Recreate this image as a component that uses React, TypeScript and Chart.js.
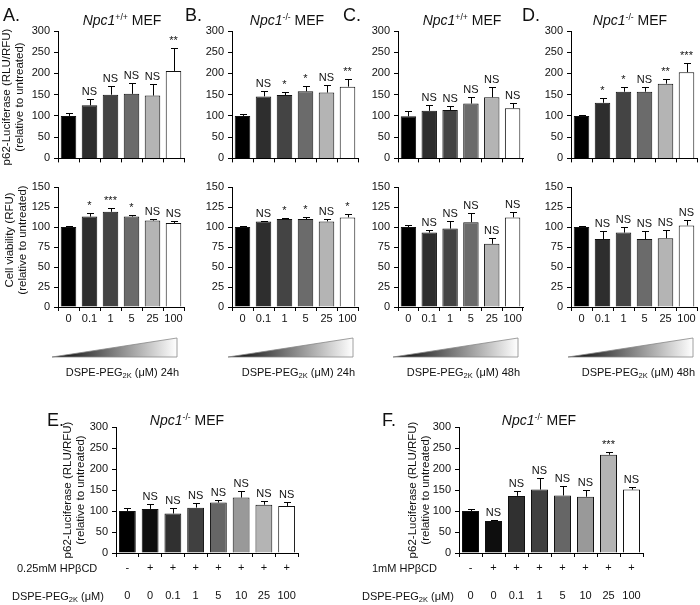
import React, { useEffect, useRef } from 'react';
import { Chart, registerables } from 'chart.js';
Chart.register(...registerables);

const FONT = '"Liberation Sans", Arial, Helvetica, sans-serif';

// ---------- data ----------
const doseLabels = ['0', '0.1', '1', '5', '25', '100'];
const doseColors = ['#000000', '#2e2e2e', '#444444', '#6b6b6b', '#b4b4b4', '#ffffff'];

const lucA = [100, 125, 150, 152, 148, 206];
const lucAErr = [6, 16, 20, 25, 27, 54];
const lucAMarks = ['', 'NS', 'NS', 'NS', 'NS', '**'];

const lucB = [100, 146, 149, 158, 155, 169];
const lucBErr = [5, 13, 8, 13, 19, 17];
const lucBMarks = ['', 'NS', '*', '*', 'NS', '**'];

const lucC = [99, 112, 114, 129, 144, 118];
const lucCErr = [13, 13, 10, 15, 25, 13];
const lucCMarks = ['', 'NS', 'NS', 'NS', 'NS', 'NS'];

const lucD = [100, 131, 157, 157, 176, 203];
const lucDErr = [2, 12, 10, 12, 12, 21];
const lucDMarks = ['', '*', '*', 'NS', '**', '***'];

const viaA = [100, 113, 119, 113, 108, 105];
const viaAErr = [1, 5, 5, 2, 1.5, 2];
const viaAMarks = ['', '*', '***', '*', 'NS', 'NS'];

const viaB = [100, 107, 110, 110, 107, 112];
const viaBErr = [1, 1, 1.5, 2, 3, 4];
const viaBMarks = ['', 'NS', '*', '*', 'NS', '*'];

const viaC = [100, 93, 98, 106, 79, 112];
const viaCErr = [2, 3, 10, 12, 7, 7];
const viaCMarks = ['', 'NS', 'NS', 'NS', 'NS', 'NS'];

const viaD = [100, 85, 93, 85, 86, 102];
const viaDErr = [1, 10, 7, 10, 10, 7];
const viaDMarks = ['', 'NS', 'NS', 'NS', 'NS', 'NS'];

const efCats = ['c1', 'c2', 'c3', 'c4', 'c5', 'c6', 'c7', 'c8'];
const hpRow = ['-', '+', '+', '+', '+', '+', '+', '+'];
const dspeRow = ['0', '0', '0.1', '1', '5', '10', '25', '100'];
const efColors = ['#000000', '#0e0e0e', '#303030', '#404040', '#666666', '#999999', '#b4b4b4', '#ffffff'];

const lucE = [100, 105, 94, 108, 120, 132, 115, 112];
const lucEErr = [8, 11, 12, 10, 7, 15, 8, 9];
const lucEMarks = ['', 'NS', 'NS', 'NS', 'NS', 'NS', 'NS', 'NS'];

const lucF = [100, 76, 136, 151, 137, 134, 234, 151];
const lucFErr = [4, 2, 12, 27, 23, 17, 7, 7];
const lucFMarks = ['', 'NS', 'NS', 'NS', 'NS', 'NS', '***', 'NS'];

// ---------- chart panel ----------
type PanelProps = {
  labels: string[];
  values: number[];
  errors: number[];
  marks: string[];
  colors: string[];
  yMax: number;
  step: number;
  showX: boolean;
  axisX: number;
  right: number;
  top: number;
  bottom: number;
  xH: number;
  rows?: string[][];
};

function BarPanel(p: PanelProps) {
  const ref = useRef<HTMLCanvasElement>(null);
  const yW = 40;
  const padT = 14;
  const padR = 4;
  const w = yW + (p.right - p.axisX) + padR;
  const h = padT + (p.bottom - p.top) + p.xH;

  useEffect(() => {
    const plugin = {
      id: 'errMarks',
      afterDatasetsDraw(chart: any) {
        const ctx = chart.ctx;
        const ys = chart.scales.y;
        const meta = chart.getDatasetMeta(0);
        ctx.save();
        ctx.strokeStyle = '#000';
        ctx.lineWidth = 1;
        ctx.fillStyle = '#111';
        ctx.font = `11px ${FONT}`;
        ctx.textAlign = 'center';
        ctx.textBaseline = 'alphabetic';
        meta.data.forEach((bar: any, i: number) => {
          const x = Math.round(bar.x) + 0.5;
          const yb = ys.getPixelForValue(p.values[i]);
          const yt = Math.round(ys.getPixelForValue(p.values[i] + p.errors[i])) + 0.5;
          ctx.beginPath();
          ctx.moveTo(x, yb);
          ctx.lineTo(x, yt);
          ctx.moveTo(x - 3.5, yt);
          ctx.lineTo(x + 3.5, yt);
          ctx.stroke();
          if (p.marks[i]) ctx.fillText(p.marks[i], bar.x, yt - 5);
        });
        if (p.rows) {
          const area = chart.chartArea;
          ctx.textBaseline = 'middle';
          p.rows.forEach((row, r) => {
            row.forEach((t, i) => {
              ctx.fillText(t, meta.data[i].x, area.bottom + 15 + r * 28);
            });
          });
        }
        ctx.restore();
      },
    };

    const chart = new Chart(ref.current as HTMLCanvasElement, {
      type: 'bar',
      data: {
        labels: p.labels,
        datasets: [
          {
            data: p.values,
            backgroundColor: p.colors,
            borderColor: '#111',
            borderWidth: 1,
            barPercentage: 0.74,
            categoryPercentage: 1,
          },
        ],
      },
      options: {
        responsive: false,
        animation: false,
        events: [],
        layout: { padding: { top: padT, right: padR, left: 0, bottom: 0 } },
        plugins: { legend: { display: false }, tooltip: { enabled: false }, title: { display: false } },
        scales: {
          x: {
            type: 'category',
            offset: true,
            grid: { display: true, offset: true, drawOnChartArea: false, drawTicks: true, tickLength: 4, color: '#000' },
            border: { display: true, color: '#000', width: 1 },
            ticks: {
              display: p.showX,
              color: '#111',
              font: { size: 11, family: FONT },
              padding: 1,
              maxRotation: 0,
              autoSkip: false,
            },
            afterFit: (s: any) => {
              s.height = p.xH;
            },
          },
          y: {
            min: 0,
            max: p.yMax,
            ticks: { stepSize: p.step, color: '#111', font: { size: 11, family: FONT }, padding: 4 },
            grid: { display: true, drawOnChartArea: false, drawTicks: true, tickLength: 4, color: '#000' },
            border: { display: true, color: '#000', width: 1 },
            afterFit: (s: any) => {
              s.width = yW;
            },
          },
        },
      },
      plugins: [plugin],
    } as any);
    return () => chart.destroy();
  }, []);

  return (
    <canvas
      ref={ref}
      width={w}
      height={h}
      style={{ position: 'absolute', left: p.axisX - yW, top: p.top - padT, width: w, height: h }}
    />
  );
}

// ---------- text helpers ----------
function Txt(props: { x: number; y: number; size?: number; align?: 'left' | 'center' | 'right'; children: any; style?: any }) {
  const { x, y, size = 11, align = 'center', children, style } = props;
  const tx = align === 'left' ? '0' : align === 'right' ? '-100%' : '-50%';
  return (
    <div
      style={{
        position: 'absolute',
        left: x,
        top: y,
        fontSize: size,
        lineHeight: 1,
        whiteSpace: 'nowrap',
        transform: `translate(${tx}, -50%)`,
        ...style,
      }}
    >
      {children}
    </div>
  );
}

function VTitle(props: { x: number; y: number; l1: string; l2: string }) {
  return (
    <div
      style={{
        position: 'absolute',
        left: props.x,
        top: props.y,
        fontSize: 11.5,
        lineHeight: '13px',
        whiteSpace: 'nowrap',
        textAlign: 'center',
        transform: 'translate(-50%, -50%) rotate(-90deg)',
      }}
    >
      {props.l1}
      <br />
      {props.l2}
    </div>
  );
}

const Sub = (p: { children: any }) => (
  <span style={{ fontSize: '0.68em', position: 'relative', top: '0.3em' }}>{p.children}</span>
);

function Title(props: { x: number; y: number; sup: string }) {
  return (
    <Txt x={props.x} y={props.y} size={14}>
      <i>Npc1</i>
      <span style={{ fontSize: '0.62em', position: 'relative', top: '-0.55em' }}>{props.sup}</span> MEF
    </Txt>
  );
}

const triangles = [
  [52, 177],
  [228, 353],
  [393, 518],
  [568, 693],
];
const triCaptions = ['24h', '24h', '48h', '48h'];

export default function App() {
  const top = { top: 31, bottom: 163, yMax: 300, step: 50, showX: false, xH: 6 };
  const bot = { top: 187, bottom: 307, yMax: 150, step: 25, showX: true, xH: 20 };
  const ef = { top: 427, bottom: 553, yMax: 300, step: 50, showX: false, xH: 50 };
  const cols = [
    [58, 184],
    [232, 358],
    [398, 523],
    [571, 697],
  ];
  return (
    <div
      style={{
        position: 'absolute',
        left: 0,
        top: 0,
        width: 700,
        height: 605,
        background: '#fff',
        fontFamily: FONT,
        color: '#111',
        overflow: 'hidden',
      }}
    >
      <BarPanel labels={doseLabels} values={lucA} errors={lucAErr} marks={lucAMarks} colors={doseColors} axisX={cols[0][0]} right={cols[0][1]} {...top} />
      <BarPanel labels={doseLabels} values={lucB} errors={lucBErr} marks={lucBMarks} colors={doseColors} axisX={cols[1][0]} right={cols[1][1]} {...top} />
      <BarPanel labels={doseLabels} values={lucC} errors={lucCErr} marks={lucCMarks} colors={doseColors} axisX={cols[2][0]} right={cols[2][1]} {...top} />
      <BarPanel labels={doseLabels} values={lucD} errors={lucDErr} marks={lucDMarks} colors={doseColors} axisX={cols[3][0]} right={cols[3][1]} {...top} />

      <BarPanel labels={doseLabels} values={viaA} errors={viaAErr} marks={viaAMarks} colors={doseColors} axisX={cols[0][0]} right={cols[0][1]} {...bot} />
      <BarPanel labels={doseLabels} values={viaB} errors={viaBErr} marks={viaBMarks} colors={doseColors} axisX={cols[1][0]} right={cols[1][1]} {...bot} />
      <BarPanel labels={doseLabels} values={viaC} errors={viaCErr} marks={viaCMarks} colors={doseColors} axisX={cols[2][0]} right={cols[2][1]} {...bot} />
      <BarPanel labels={doseLabels} values={viaD} errors={viaDErr} marks={viaDMarks} colors={doseColors} axisX={cols[3][0]} right={cols[3][1]} {...bot} />

      <BarPanel labels={efCats} values={lucE} errors={lucEErr} marks={lucEMarks} colors={efColors} axisX={116} right={298} rows={[hpRow, dspeRow]} {...ef} />
      <BarPanel labels={efCats} values={lucF} errors={lucFErr} marks={lucFMarks} colors={efColors} axisX={459} right={643} rows={[hpRow, dspeRow]} {...ef} />

      <svg style={{ position: 'absolute', left: 0, top: 0 }} width={700} height={605}>
        <defs>
          <linearGradient id="tg" x1="0" x2="1" y1="0" y2="0">
            <stop offset="0" stopColor="#000" />
            <stop offset="1" stopColor="#fff" />
          </linearGradient>
        </defs>
        {triangles.map(([x0, x1], i) => (
          <polygon key={i} points={`${x0},357 ${x1},338 ${x1},357`} fill="url(#tg)" stroke="#888" strokeWidth={0.8} />
        ))}
      </svg>
      {triangles.map(([, x1], i) => (
        <Txt key={i} x={x1 + 2} y={372} align="right">
          DSPE-PEG<Sub>2K</Sub> (μM) {triCaptions[i]}
        </Txt>
      ))}

      {/* panel letters */}
      <Txt x={3} y={14.5} size={18} align="left">A.</Txt>
      <Txt x={185} y={14.5} size={18} align="left">B.</Txt>
      <Txt x={343} y={14.5} size={18} align="left">C.</Txt>
      <Txt x={522} y={14.5} size={18} align="left">D.</Txt>
      <Txt x={47} y={420} size={18} align="left">E.</Txt>
      <Txt x={382} y={420} size={18} align="left">F.</Txt>

      {/* titles */}
      <Title x={122} y={20} sup="+/+" />
      <Title x={287} y={20} sup="-/-" />
      <Title x={462} y={20} sup="+/+" />
      <Title x={630} y={20} sup="-/-" />
      <Title x={187} y={420} sup="-/-" />
      <Title x={539} y={420} sup="-/-" />

      {/* y-axis titles */}
      <VTitle x={13} y={97} l1="p62-Luciferase (RLU/RFU)" l2="(relative to untreated)" />
      <VTitle x={16} y={240} l1="Cell viability (RFU)" l2="(relative to untreated)" />
      <VTitle x={74} y={490} l1="p62-Luciferase (RLU/RFU)" l2="(relative to untreated)" />
      <VTitle x={419} y={490} l1="p62-Luciferase (RLU/RFU)" l2="(relative to untreated)" />

      {/* row labels E/F */}
      <Txt x={17} y={568} align="left">0.25mM HPβCD</Txt>
      <Txt x={12} y={596} align="left">
        DSPE-PEG<Sub>2K</Sub> (μM)
      </Txt>
      <Txt x={372} y={568} align="left">1mM HPβCD</Txt>
      <Txt x={362} y={596} align="left">
        DSPE-PEG<Sub>2K</Sub> (μM)
      </Txt>
    </div>
  );
}
